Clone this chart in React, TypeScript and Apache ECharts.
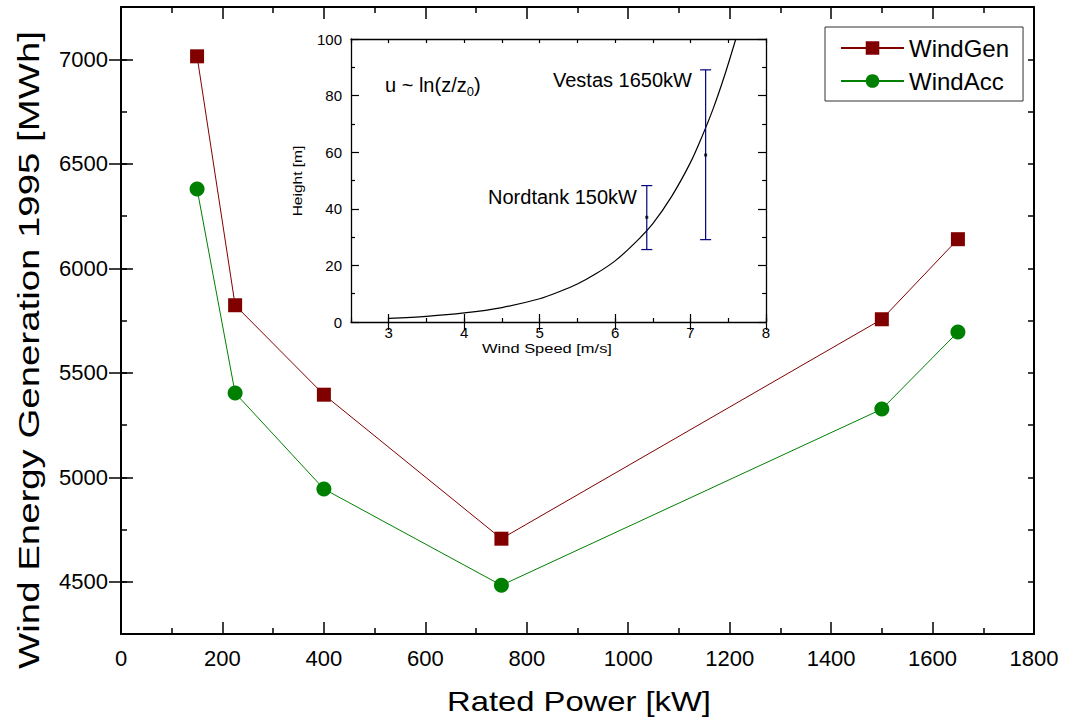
import React, { useEffect, useRef } from "react";
import * as echarts from "echarts";

// ---- Main chart data ----
const ratedPower = [150, 225, 400, 750, 1500, 1650];
const windGen = [7014, 5823, 5395, 4706, 5756, 6139];
const windAcc = [6379, 5403, 4944, 4483, 5326, 5695];
const mainYMajorTicks = [4500, 5000, 5500, 6000, 6500, 7000];

// ---- Inset data ----
const curveSpeed = [3, 3.5, 4, 4.5, 5, 5.25, 5.5, 5.75, 6, 6.25, 6.5, 6.75, 7, 7.15, 7.3, 7.45, 7.6];
const curveHeight = [1.3, 2.0, 3.2, 5.1, 8.2, 10.6, 13.4, 17.1, 21.6, 27.6, 34.8, 44.4, 56.4, 65.4, 75.4, 87, 100];
const turbineSpeed = [6.42, 7.2];
const turbineHeight = [37, 59];
const heightLow = [25.6, 29.1];
const heightHigh = [48.2, 89.1];
const insetXMajorTicks = [3, 4, 5, 6, 7, 8];

const FONT = "'Liberation Sans', Arial, Helvetica, sans-serif";

export default function App() {
  const ref = useRef<HTMLDivElement>(null);

  useEffect(() => {
    if (!ref.current) return;
    const chart = echarts.init(ref.current, undefined, { renderer: "svg" });

    const mainLine = { lineStyle: { color: "#000", width: 2 } };
    const insetLine = { lineStyle: { color: "#000", width: 1.3 } };

    const mainX = (pos: "bottom" | "top", labels: boolean) => ({
      type: "value",
      gridIndex: 0,
      position: pos,
      min: 0,
      max: 1800,
      interval: 200,
      axisLine: { show: true, onZero: false, ...mainLine },
      axisTick: { show: true, inside: true, length: 12, lineStyle: { color: "#000", width: 1.5 } },
      minorTick: { show: true, splitNumber: 2, length: 6, lineStyle: { color: "#000", width: 1.5 } },
      splitLine: { show: false },
      minorSplitLine: { show: false },
      axisLabel: {
        show: labels,
        fontSize: 22,
        color: "#000",
        fontFamily: FONT,
        margin: 13,
        formatter: (v: number) => String(v),
      },
    });

    const mainYMinor = (pos: "left" | "right", labels: boolean) => ({
      type: "value",
      gridIndex: 0,
      position: pos,
      min: 4250,
      max: 7250,
      interval: 250,
      axisLine: { show: true, onZero: false, ...mainLine },
      axisTick: { show: true, inside: true, length: 6, lineStyle: { color: "#000", width: 1.5 } },
      splitLine: { show: false },
      axisLabel: {
        show: labels,
        fontSize: 22,
        color: "#000",
        fontFamily: FONT,
        margin: 13,
        formatter: (v: number) => (mainYMajorTicks.includes(v) ? String(v) : ""),
      },
    });

    const mainYMajor = (pos: "left" | "right") => ({
      type: "value",
      gridIndex: 0,
      position: pos,
      min: 4250,
      max: 7250,
      axisLine: { show: false },
      axisTick: {
        show: true,
        inside: true,
        length: 12,
        customValues: mainYMajorTicks,
        lineStyle: { color: "#000", width: 1.5 },
      },
      splitLine: { show: false },
      axisLabel: { show: false },
    });

    const insetXMinor = (pos: "bottom" | "top", labels: boolean) => ({
      type: "value",
      gridIndex: 1,
      position: pos,
      min: 2.5,
      max: 8,
      interval: 0.5,
      axisLine: { show: true, onZero: false, ...insetLine },
      axisTick: { show: true, inside: true, length: 4, lineStyle: { color: "#000", width: 1.2 } },
      splitLine: { show: false },
      axisLabel: {
        show: labels,
        fontSize: 15,
        color: "#000",
        fontFamily: FONT,
        margin: 3,
        formatter: (v: number) => (insetXMajorTicks.includes(v) ? String(v) : ""),
      },
    });

    const insetXMajor = (pos: "bottom" | "top") => ({
      type: "value",
      gridIndex: 1,
      position: pos,
      min: 2.5,
      max: 8,
      axisLine: { show: false },
      axisTick: {
        show: true,
        inside: true,
        length: 8,
        customValues: insetXMajorTicks,
        lineStyle: { color: "#000", width: 1.2 },
      },
      splitLine: { show: false },
      axisLabel: { show: false },
    });

    const insetY = (pos: "left" | "right", labels: boolean) => ({
      type: "value",
      gridIndex: 1,
      position: pos,
      min: 0,
      max: 100,
      interval: 20,
      axisLine: { show: true, onZero: false, ...insetLine },
      axisTick: { show: true, inside: true, length: 8, lineStyle: { color: "#000", width: 1.2 } },
      minorTick: { show: true, splitNumber: 2, length: 4, lineStyle: { color: "#000", width: 1.2 } },
      splitLine: { show: false },
      minorSplitLine: { show: false },
      axisLabel: { show: labels, fontSize: 15, color: "#000", fontFamily: FONT, margin: 9 },
    });

    const option: any = {
      animation: false,
      backgroundColor: "#fff",
      textStyle: { fontFamily: FONT },
      grid: [
        { left: 121, top: 7, width: 913, height: 627, show: false },
        { left: 351, top: 39, width: 415, height: 283, show: true, backgroundColor: "#fff", borderWidth: 0 },
      ],
      xAxis: [
        mainX("bottom", true),
        mainX("top", false),
        insetXMinor("bottom", true),
        insetXMajor("bottom"),
        insetXMinor("top", false),
        insetXMajor("top"),
      ],
      yAxis: [
        mainYMinor("left", true),
        mainYMajor("left"),
        mainYMinor("right", false),
        mainYMajor("right"),
        insetY("left", true),
        insetY("right", false),
      ],
      legend: {
        data: ["WindGen", "WindAcc"],
        orient: "vertical",
        left: 825,
        top: 27,
        padding: [9, 14, 8, 15],
        itemGap: 9,
        itemWidth: 63,
        itemHeight: 17,
        borderColor: "#333",
        borderWidth: 1,
        backgroundColor: "#fff",
        textStyle: { fontSize: 24, color: "#000", fontFamily: FONT },
      },
      series: [
        {
          name: "WindGen",
          type: "line",
          xAxisIndex: 0,
          yAxisIndex: 0,
          data: ratedPower.map((x, i) => [x, windGen[i]]),
          symbol: "rect",
          symbolSize: 14,
          itemStyle: { color: "#800000" },
          lineStyle: { color: "#800000", width: 1 },
        },
        {
          name: "WindAcc",
          type: "line",
          xAxisIndex: 0,
          yAxisIndex: 0,
          data: ratedPower.map((x, i) => [x, windAcc[i]]),
          symbol: "circle",
          symbolSize: 15,
          itemStyle: { color: "#008000" },
          lineStyle: { color: "#008000", width: 1 },
        },
        {
          name: "fit",
          type: "line",
          xAxisIndex: 2,
          yAxisIndex: 4,
          data: curveSpeed.map((x, i) => [x, curveHeight[i]]),
          showSymbol: false,
          smooth: 0.3,
          clip: true,
          lineStyle: { color: "#000", width: 1.2 },
          z: 5,
        },
        {
          name: "errors",
          type: "custom",
          xAxisIndex: 2,
          yAxisIndex: 4,
          data: turbineSpeed.map((x, i) => [x, heightLow[i], heightHigh[i]]),
          encode: { x: 0, y: [1, 2] },
          z: 6,
          renderItem: (params: any, api: any) => {
            const x = api.value(0);
            const lo = api.coord([x, api.value(1)]);
            const hi = api.coord([x, api.value(2)]);
            const w = 5.5;
            const style = { stroke: "#000080", lineWidth: 1.2 };
            return {
              type: "group",
              children: [
                { type: "line", shape: { x1: lo[0], y1: lo[1], x2: hi[0], y2: hi[1] }, style },
                { type: "line", shape: { x1: lo[0] - w, y1: lo[1], x2: lo[0] + w, y2: lo[1] }, style },
                { type: "line", shape: { x1: hi[0] - w, y1: hi[1], x2: hi[0] + w, y2: hi[1] }, style },
              ],
            };
          },
        },
        {
          name: "turbines",
          type: "scatter",
          xAxisIndex: 2,
          yAxisIndex: 4,
          data: turbineSpeed.map((x, i) => [x, turbineHeight[i]]),
          symbol: "rect",
          symbolSize: 3,
          itemStyle: { color: "#000" },
          z: 7,
        },
      ],
      graphic: [
        {
          type: "text",
          x: 579,
          y: 701,
          scaleX: 1.17,
          style: {
            text: "Rated Power [kW]",
            fontSize: 28,
            fontFamily: FONT,
            fill: "#000",
            align: "center",
            verticalAlign: "middle",
          },
        },
        {
          type: "text",
          x: 29,
          y: 350,
          rotation: Math.PI / 2,
          scaleX: 1.28,
          style: {
            text: "Wind Energy Generation 1995 [MWh]",
            fontSize: 30,
            fontFamily: FONT,
            fill: "#000",
            align: "center",
            verticalAlign: "middle",
          },
        },
        {
          type: "text",
          x: 547,
          y: 348,
          scaleX: 1.22,
          z: 10,
          style: {
            text: "Wind Speed [m/s]",
            fontSize: 13.5,
            fontFamily: FONT,
            fill: "#000",
            align: "center",
            verticalAlign: "middle",
          },
        },
        {
          type: "text",
          x: 297,
          y: 181,
          rotation: Math.PI / 2,
          scaleX: 1.15,
          z: 10,
          style: {
            text: "Height [m]",
            fontSize: 13.5,
            fontFamily: FONT,
            fill: "#000",
            align: "center",
            verticalAlign: "middle",
          },
        },
        {
          type: "text",
          x: 385,
          y: 85,
          z: 10,
          style: {
            text: "{a|u ~ ln(z/z}{b|0}{a|)}",
            fill: "#000",
            align: "left",
            verticalAlign: "middle",
            rich: {
              a: { fontSize: 20, fontFamily: FONT, fill: "#000", lineHeight: 26, verticalAlign: "middle" },
              b: { fontSize: 13, fontFamily: FONT, fill: "#000", lineHeight: 14, verticalAlign: "bottom" },
            },
          },
        },
        {
          type: "text",
          x: 553,
          y: 80,
          z: 10,
          style: {
            text: "Vestas 1650kW",
            fontSize: 20,
            fontFamily: FONT,
            fill: "#000",
            align: "left",
            verticalAlign: "middle",
          },
        },
        {
          type: "text",
          x: 637,
          y: 197,
          z: 10,
          style: {
            text: "Nordtank 150kW",
            fontSize: 20,
            fontFamily: FONT,
            fill: "#000",
            align: "right",
            verticalAlign: "middle",
          },
        },
      ],
    };

    chart.setOption(option);
    return () => chart.dispose();
  }, []);

  return (
    <div
      ref={ref}
      style={{ position: "absolute", left: 0, top: 0, width: 1069, height: 727, background: "#fff" }}
    />
  );
}
